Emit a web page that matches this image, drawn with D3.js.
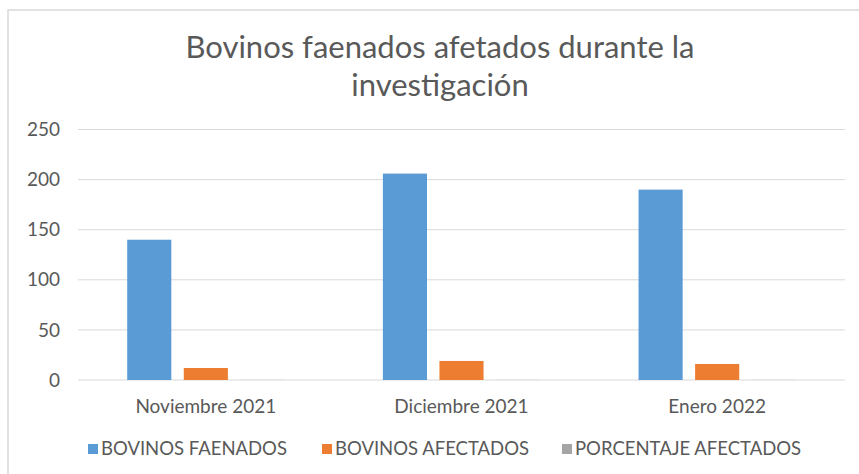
<!DOCTYPE html>
<html>
<head>
<meta charset="utf-8">
<script src="https://cdn.jsdelivr.net/npm/d3@7"></script>
<style>
  body { margin: 0; background: #fff; }
  svg { font-family: Lato, "Open Sans", sans-serif; }
</style>
</head>
<body>
<div id="chart"></div>
<script>
const categories = ['Noviembre 2021', 'Diciembre 2021', 'Enero 2022'];
const seriesNames = ['BOVINOS FAENADOS', 'BOVINOS AFECTADOS', 'PORCENTAJE AFECTADOS'];
const faenados = [140, 206, 190];
const afectados = [12, 19, 16];
const porcentaje = [0.09, 0.09, 0.08];
const yTicks = [0, 50, 100, 150, 200, 250];
const colors = ['#5b9bd5', '#ed7d31', '#a5a5a5'];

const width = 859, height = 474;
const margin = { top: 129.5, right: 14, bottom: 94, left: 78 };

const svg = d3.select('#chart').append('svg')
    .attr('width', width)
    .attr('height', height);

// chart area border (right and bottom fall outside the crop)
svg.append('rect')
    .attr('x', 8).attr('y', 10)
    .attr('width', 870).attr('height', 480)
    .attr('fill', 'none')
    .attr('stroke', '#d9d9d9')
    .attr('stroke-width', 1.5);

const x0 = d3.scaleBand()
    .domain(categories)
    .range([margin.left, width - margin.right]);

const x1 = d3.scaleBand()
    .domain(seriesNames)
    .range([0, x0.bandwidth()])
    .paddingInner(0.22)
    .paddingOuter(0.87);

const y = d3.scaleLinear()
    .domain([0, 250])
    .range([height - margin.bottom, margin.top]);

// gridlines
svg.append('g')
    .selectAll('line')
    .data(yTicks)
    .join('line')
    .attr('x1', margin.left)
    .attr('x2', width - margin.right)
    .attr('y1', d => y(d))
    .attr('y2', d => y(d))
    .attr('stroke', '#d9d9d9')
    .attr('stroke-width', 1);

// y labels
svg.append('g')
    .selectAll('text')
    .data(yTicks)
    .join('text')
    .attr('x', 60)
    .attr('y', d => y(d))
    .attr('dy', '0.35em')
    .attr('text-anchor', 'end')
    .attr('fill', '#595959')
    .style('font-size', '19px')
    .text(d => d);

const rows = categories.map((c, i) => ({
    cat: c,
    vals: [faenados[i], afectados[i], porcentaje[i]]
}));

svg.append('g')
    .selectAll('g')
    .data(rows)
    .join('g')
    .attr('transform', d => `translate(${x0(d.cat)},0)`)
    .selectAll('rect')
    .data(d => d.vals.map((v, j) => ({ name: seriesNames[j], v, j })))
    .join('rect')
    .attr('x', d => x1(d.name))
    .attr('width', x1.bandwidth())
    .attr('y', d => y(d.v))
    .attr('height', d => y(0) - y(d.v))
    .attr('fill', d => colors[d.j]);

// category labels
svg.append('g')
    .selectAll('text')
    .data(categories)
    .join('text')
    .attr('x', d => x0(d) + x0.bandwidth() / 2)
    .attr('y', 406)
    .attr('dy', '0.35em')
    .attr('text-anchor', 'middle')
    .attr('fill', '#595959')
    .style('font-size', '19px')
    .text(d => d);

// title
const title = svg.append('text')
    .attr('x', 440)
    .attr('text-anchor', 'middle')
    .attr('fill', '#595959')
    .style('font-size', '31px');
title.append('tspan').attr('x', 440).attr('y', 58).text('Bovinos faenados afetados durante la');
title.append('tspan').attr('x', 440).attr('y', 96).text('investigación');

// legend
const legendX = [88, 322, 562];
const legend = svg.append('g')
    .selectAll('g')
    .data(seriesNames)
    .join('g')
    .attr('transform', (d, i) => `translate(${legendX[i]},449)`);

legend.append('rect')
    .attr('x', 0).attr('y', -5)
    .attr('width', 10).attr('height', 10)
    .attr('fill', (d, i) => colors[i]);

legend.append('text')
    .attr('x', 13)
    .attr('dy', '0.35em')
    .attr('fill', '#595959')
    .style('font-size', '18.5px')
    .text(d => d);
</script>
</body>
</html>
